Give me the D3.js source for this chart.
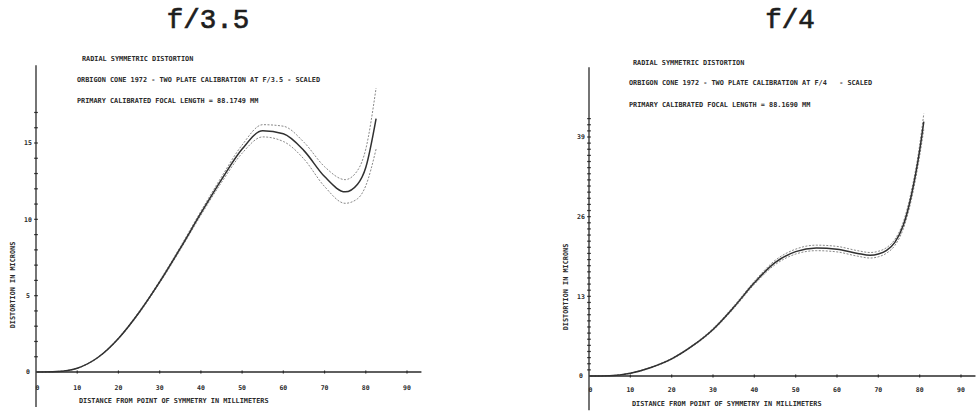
<!DOCTYPE html>
<html>
<head>
<meta charset="utf-8">
<script src="https://cdn.jsdelivr.net/npm/d3@7/dist/d3.min.js"></script>
<style>
  html, body { margin: 0; padding: 0; background: #fff; }
  svg { display: block; }
  .mono { font-family: "DejaVu Sans Mono", "Liberation Mono", monospace; }
  .type { font-family: "Liberation Mono", "DejaVu Sans Mono", monospace; }
</style>
</head>
<body>
<svg id="chart" width="980" height="413"></svg>
<script>
// Radial symmetric distortion, f/3.5 calibration (distance in mm, distortion in microns)
const xF35 = [0, 5, 10, 15, 20, 25, 30, 35, 40, 45, 50, 55, 60, 65, 70, 75, 78, 80, 82.5];
const midF35 = [0, 0.03, 0.25, 0.95, 2.2, 3.9, 5.9, 8.1, 10.4, 12.6, 14.6, 15.8, 15.6, 14.5, 12.8, 11.8, 12.3, 13.4, 16.6];
const upF35 = [0, 0.03, 0.26, 0.97, 2.24, 3.96, 5.98, 8.2, 10.53, 12.78, 14.87, 16.2, 16.1, 15.05, 13.45, 12.6, 13.2, 14.6, 18.6];
const loF35 = [0, 0.03, 0.24, 0.93, 2.16, 3.84, 5.82, 8.0, 10.27, 12.42, 14.33, 15.4, 15.1, 13.95, 12.15, 11.05, 11.35, 12.2, 14.6];

// Radial symmetric distortion, f/4 calibration
const xF4 = [0, 5, 10, 15, 20, 25, 30, 35, 40, 45, 50, 55, 60, 65, 68, 70, 72, 74, 76, 78, 80, 81];
const midF4 = [0, 0.05, 0.45, 1.4, 2.8, 4.9, 7.6, 11.2, 15.2, 18.5, 20.3, 20.9, 20.7, 20.0, 19.7, 19.9, 20.5, 21.8, 24.5, 29.5, 36.8, 41.5];
const upF4 = [0, 0.05, 0.48, 1.45, 2.88, 5.0, 7.75, 11.4, 15.45, 18.85, 20.7, 21.35, 21.15, 20.45, 20.15, 20.35, 20.95, 22.3, 25.05, 30.2, 37.7, 42.8];
const loF4 = [0, 0.05, 0.42, 1.35, 2.72, 4.8, 7.45, 11.0, 14.95, 18.15, 19.9, 20.45, 20.25, 19.55, 19.25, 19.45, 20.05, 21.3, 23.95, 28.8, 35.9, 40.2];

// Axis tick labels
const xTickLabels = [0, 10, 20, 30, 40, 50, 60, 70, 80, 90];
const yTickLabelsF35 = [0, 5, 10, 15];
const yTickLabelsF4 = [0, 13, 26, 39];

const titleF35 = ["RADIAL SYMMETRIC DISTORTION",
  "ORBIGON CONE 1972 - TWO PLATE CALIBRATION AT F/3.5 - SCALED",
  "PRIMARY CALIBRATED FOCAL LENGTH = 88.1749 MM"];
const titleF4 = ["RADIAL SYMMETRIC DISTORTION",
  "ORBIGON CONE 1972 - TWO PLATE CALIBRATION AT F/4   - SCALED",
  "PRIMARY CALIBRATED FOCAL LENGTH = 88.1690 MM"];

const svg = d3.select("#chart");

function panel(cfg) {
  const g = svg.append("g");
  const x = d3.scaleLinear().domain([0, 90]).range([cfg.x0, cfg.x90]);
  const y = d3.scaleLinear().domain([0, cfg.yRef]).range([cfg.y0, cfg.yRefPx]);
  const ink = "#2a2a2a";

  // aperture caption above each plot
  g.append("text").attr("class", "type")
    .attr("x", cfg.capX).attr("y", 28)
    .attr("text-anchor", "middle")
    .attr("font-size", 27.5).attr("fill", "#1e1e1e")
    .attr("stroke", "#1e1e1e").attr("stroke-width", 0.7)
    .text(cfg.caption);

  // heading lines
  g.selectAll("text.head").data(cfg.heads).join("text")
    .attr("class", "mono head")
    .attr("x", (d, i) => i === 0 ? cfg.headX0 : cfg.headX)
    .attr("y", (d, i) => cfg.headY[i] + 2.4)
    .attr("font-size", 6.85).attr("font-weight", "bold").attr("fill", ink)
    .attr("xml:space", "preserve")
    .style("white-space", "pre")
    .text(d => d);

  // axis lines
  g.append("line")
    .attr("x1", x(0)).attr("x2", x(0))
    .attr("y1", y(cfg.yTop)).attr("y2", y(cfg.yBottom))
    .attr("stroke", ink).attr("stroke-width", 1.3);
  g.append("line")
    .attr("x1", x(0)).attr("x2", x(cfg.xEnd))
    .attr("y1", y(0)).attr("y2", y(0))
    .attr("stroke", ink).attr("stroke-width", 1.3);

  // minor y ticks every unit
  g.selectAll("line.yt").data(d3.range(1, cfg.yTickMax + 1)).join("line")
    .attr("class", "yt")
    .attr("x1", x(0) - 1.8).attr("x2", x(0) + 1.8)
    .attr("y1", d => y(d)).attr("y2", d => y(d))
    .attr("stroke", ink).attr("stroke-width", 1.2);

  // x ticks
  g.selectAll("line.xt").data(xTickLabels.slice(1)).join("line")
    .attr("class", "xt")
    .attr("x1", d => x(d)).attr("x2", d => x(d))
    .attr("y1", y(0) - 1.5).attr("y2", y(0) + 1.5)
    .attr("stroke", ink).attr("stroke-width", 1.2);

  // y tick labels
  g.selectAll("text.yl").data(cfg.yLabels).join("text")
    .attr("class", "mono yl")
    .attr("x", x(0) - 8).attr("y", d => y(d) + 2.3)
    .attr("text-anchor", "middle")
    .attr("font-size", 6.5).attr("font-weight", "bold").attr("fill", ink)
    .text(d => d);

  // x tick labels
  g.selectAll("text.xl").data(xTickLabels).join("text")
    .attr("class", "mono xl")
    .attr("x", d => x(d) + (d === 0 ? 1.5 : 0)).attr("y", y(0) + cfg.xLabDy)
    .attr("text-anchor", "middle")
    .attr("font-size", 6.5).attr("font-weight", "bold").attr("fill", ink)
    .text(d => d);

  // axis titles
  g.append("text").attr("class", "mono")
    .attr("x", cfg.xTitleX).attr("y", y(0) + cfg.xTitleDy)
    .attr("font-size", 6.85).attr("font-weight", "bold").attr("fill", ink)
    .text("DISTANCE FROM POINT OF SYMMETRY IN MILLIMETERS");
  g.append("text").attr("class", "mono")
    .attr("transform", `translate(${cfg.yTitleX},${cfg.yTitleY}) rotate(-90)`)
    .attr("text-anchor", "middle")
    .attr("font-size", 6.85).attr("font-weight", "bold").attr("fill", ink)
    .text("DISTORTION IN MICRONS");

  // curves: dashed limits and the solid mean curve
  const line = d3.line().x(d => x(d[0])).y(d => y(d[1])).curve(d3.curveMonotoneX);
  const zipped = arr => cfg.xs.map((v, i) => [v, arr[i]]);
  [cfg.up, cfg.lo].forEach(arr => {
    g.append("path").datum(zipped(arr))
      .attr("d", line).attr("fill", "none")
      .attr("stroke", "#7a7a7a").attr("stroke-width", 0.9)
      .attr("stroke-dasharray", "2,1.5");
  });
  g.append("path").datum(zipped(cfg.mid))
    .attr("d", line).attr("fill", "none")
    .attr("stroke", "#303030").attr("stroke-width", 1.5);
}

panel({
  caption: "f/3.5", capX: 208,
  heads: titleF35, headX0: 82, headX: 77, headY: [59, 80, 101],
  x0: 36, x90: 407, y0: 372, yRef: 15, yRefPx: 143,
  yTop: 20.1, yBottom: -2.3, yTickMax: 17, xEnd: 93.5,
  yLabels: yTickLabelsF35, xLabDy: 18, xTitleX: 79, xTitleDy: 30.5,
  yTitleX: 14.5, yTitleY: 285,
  xs: xF35, mid: midF35, up: upF35, lo: loF35
});

panel({
  caption: "f/4", capX: 790,
  heads: titleF4, headX0: 633, headX: 629, headY: [63, 83, 105],
  x0: 589, x90: 961, y0: 376, yRef: 39, yRefPx: 137,
  yTop: 50.4, yBottom: -5.6, yTickMax: 42, xEnd: 93.5,
  yLabels: yTickLabelsF4, xLabDy: 16, xTitleX: 632, xTitleDy: 29.5,
  yTitleX: 567.5, yTitleY: 287,
  xs: xF4, mid: midF4, up: upF4, lo: loF4
});
</script>
</body>
</html>
